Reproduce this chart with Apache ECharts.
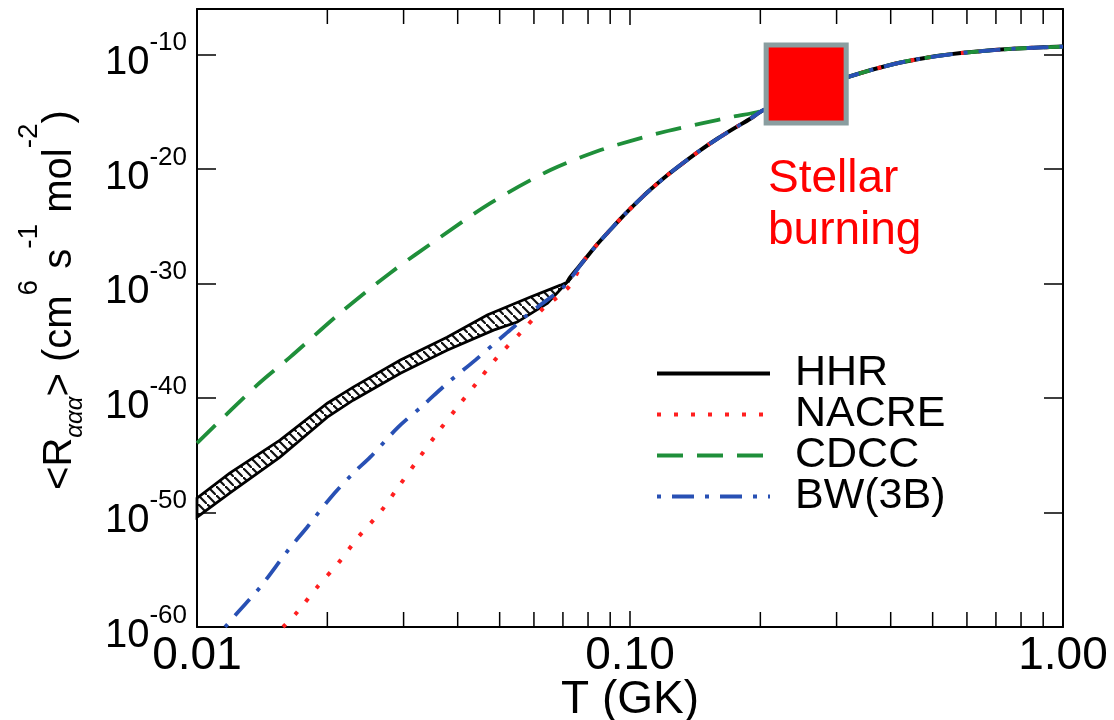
<!DOCTYPE html>
<html><head><meta charset="utf-8">
<script src="https://cdn.jsdelivr.net/npm/echarts@6/dist/echarts.min.js"></script>
<style>html,body{margin:0;padding:0;background:#fff}#chart{width:1114px;height:720px}</style>
</head><body><div id="chart"></div>
<script>
// ---------------- data ----------------
const xTicks = [0.01, 0.1, 1];
const xTickLabels = ['0.01', '0.10', '1.00'];
const xMinorTicks = [0.02,0.03,0.04,0.05,0.06,0.07,0.08,0.09,0.2,0.3,0.4,0.5,0.6,0.7,0.8,0.9];
const yTicks = [1e-60, 1e-50, 1e-40, 1e-30, 1e-20, 1e-10];
const yTickExps = ['-60', '-50', '-40', '-30', '-20', '-10'];
const yMin = 1e-60, yMax = 1e-6;

// HHR uncertainty band (low T)
const hhrUpperT = [0.0100,0.0119,0.01555,0.0200,0.02295,0.0295,0.0378,0.0468,0.0589,0.0691,0.0717];
const hhrUpperR = [1.8e-49,2.75e-47,2.1e-44,3.6e-41,9.1e-40,2.1e-37,2.1e-35,1.8e-33,6.8e-32,7.4e-31,1.4e-30];
const hhrLowerT = [0.0100,0.0119,0.01555,0.0200,0.02295,0.0295,0.0378,0.0484,0.0549,0.0645,0.0717];
const hhrLowerR = [3.9e-51,4.9e-49,6.9e-46,2.2e-42,6.6e-41,1.5e-38,1.55e-36,8.7e-35,4.4e-34,2.0e-32,1.4e-30];

// HHR line where the band has closed
const hhrLowT = [0.0717, 0.0728];
const hhrLowR = [1.4e-30, 3.7e-30];

// common high-T curve (HHR, NACRE, BW coincide)
const sharedT = [0.0781,0.0841,0.0902,0.0966,0.1041,0.1115,0.1221,0.1330,0.1455,0.1594,0.1735,0.1900,0.2025,0.2552,0.3184,0.4066,0.4874,0.5811,0.6928,0.8302,1.0];
const sharedR = [9.3e-29,2.9e-27,5.4e-26,8.9e-25,1.48e-23,1.66e-22,3.1e-21,3.8e-20,4.7e-19,4.8e-18,3.5e-17,2.7e-16,1.35e-15,5.5e-14,1.15e-12,1.55e-11,5.8e-11,1.4e-10,2.6e-10,3.9e-10,5.2e-10];

const nacreT = [0.0158,0.01703,0.01894,0.02118,0.02357,0.02649,0.02915,0.03243,0.03588,0.03992,0.0444,0.04938,0.05582,0.0631,0.06797,0.0728];
const nacreR = [1.0e-60,1.95e-59,3.0e-57,3.7e-55,7.1e-53,1.07e-50,1.66e-48,4.6e-46,8.7e-44,1.6e-41,2.5e-39,3.8e-37,4.8e-35,7.2e-33,6.8e-32,7.4e-31];

const cdccT = [0.0100,0.01376,0.01641,0.02141,0.0279,0.0365,0.0476,0.0655,0.0855,0.1019,0.1221,0.1455,0.1735];
const cdccR = [1.15e-44,1.35e-39,3.8e-37,2.7e-33,8.3e-30,1.17e-26,1.1e-23,8.5e-21,4.7e-19,3.5e-18,2.2e-17,9.8e-17,4.0e-16];

const bwT = [0.01161,0.01237,0.01399,0.01623,0.01796,0.0203,0.02295,0.02512,0.02915,0.0333,0.03784,0.04393,0.04966,0.0535,0.05673,0.06111,0.07017];
const bwR = [1.0e-60,1.6e-59,3.0e-57,5.1e-54,5.2e-52,1.8e-49,2.75e-47,6.9e-46,2.9e-43,2.4e-41,2.0e-39,2.1e-37,1.17e-35,1.3e-34,9.8e-34,8.9e-33,5.0e-31];

// stellar burning marker (centre)
const stellarT = [0.2552];
const stellarR = [2.78e-13];

// ---------------- build ----------------
const FONT = '"Liberation Sans", Arial, Helvetica, sans-serif';
const pairs = (T, R) => T.map((t, i) => [t, R[i]]);
const shared = pairs(sharedT, sharedR);
const hhrData = pairs(hhrLowT, hhrLowR).concat(shared);
const nacreData = pairs(nacreT, nacreR).concat(shared);
const bwData = pairs(bwT, bwR).concat(shared);
const cdccData = pairs(cdccT, cdccR).concat(shared.filter(p => p[0] >= 0.2));
const bandUpper = pairs(hhrUpperT, hhrUpperR);
const bandLower = pairs(hhrLowerT, hhrLowerR);

// hatch pattern for the HHR band
const hatch = document.createElement('canvas');
hatch.width = 9; hatch.height = 9;
(function(){
  const c = hatch.getContext('2d');
  c.fillStyle = '#fff'; c.fillRect(0,0,9,9);
  c.strokeStyle = '#111'; c.lineWidth = 2.2;
  c.beginPath(); c.moveTo(-1,-1); c.lineTo(10,10); c.stroke();
})();

const chart = echarts.init(document.getElementById('chart'), null, {renderer: 'canvas'});

const axisLineStyle = {color: '#000', width: 2};
const xFmt = v => {
  for (let i = 0; i < xTicks.length; i++) {
    if (Math.abs(Math.log10(v) - Math.log10(xTicks[i])) < 1e-6) return xTickLabels[i];
  }
  return '';
};

const option = {
  backgroundColor: '#fff',
  animation: false,
  grid: {left: 197, right: 51, top: 9, bottom: 93, containLabel: false, outerBoundsMode: 'none'},
  legend: {
    orient: 'vertical', left: 655, top: 352, padding: 0,
    itemWidth: 113, itemHeight: 20, itemGap: -2,
    data: ['HHR', 'NACRE', 'CDCC', 'BW(3B)'],
    itemStyle: {opacity: 0},
    lineStyle: {width: 4},
    textStyle: {fontSize: 43, color: '#000', fontFamily: FONT, lineHeight: 38, padding: [0, 0, 0, 20]}
  },
  xAxis: [
    {type: 'log', logBase: 10, min: 0.01, max: 1, position: 'bottom',
     name: 'T (GK)', nameLocation: 'middle', nameGap: 50, nameMoveOverlap: false,
     nameTextStyle: {fontSize: 46, color: '#000', fontFamily: FONT},
     axisLine: {show: true, onZero: false, lineStyle: axisLineStyle},
     axisTick: {show: true, inside: true, length: 16, lineStyle: {color: '#000', width: 1.5}},
     axisLabel: {fontSize: 46, color: '#000', fontFamily: FONT, margin: 6, formatter: xFmt, showMinLabel: true, showMaxLabel: true},
     splitLine: {show: false}},
    {type: 'log', logBase: 10, min: 0.01, max: 1, position: 'top',
     axisLine: {show: true, onZero: false, lineStyle: axisLineStyle},
     axisTick: {show: true, inside: true, length: 16, lineStyle: {color: '#000', width: 1.5}},
     axisLabel: {show: false}, splitLine: {show: false}}
  ],
  yAxis: [
    {type: 'log', logBase: 10, min: yMin, max: yMax, position: 'left',
     name: '<R{sub|ααα}> (cm{sup|6} s{sup|-1} mol{sup|-2})',
     nameLocation: 'middle', nameGap: 92, nameMoveOverlap: false,
     nameTextStyle: {fontSize: 40, color: '#000', fontFamily: FONT, padding: [0, 0, 0, 36],
       rich: {
         sub: {fontSize: 24, fontStyle: 'italic', color: '#000', fontFamily: FONT, padding: [30, 0, 0, 0]},
         sup: {fontSize: 28, color: '#000', fontFamily: FONT, padding: [0, 0, 62, 0]}
       }},
     axisLine: {show: true, onZero: false, lineStyle: axisLineStyle},
     axisTick: {show: true, inside: true, length: 19, lineStyle: {color: '#000', width: 1.5}},
     axisLabel: {show: false},
     splitLine: {show: false}},
    {type: 'log', logBase: 10, min: yMin, max: yMax, position: 'right',
     axisLine: {show: true, onZero: false, lineStyle: axisLineStyle},
     axisTick: {show: true, inside: true, length: 19, lineStyle: {color: '#000', width: 1.5}},
     axisLabel: {show: false}, splitLine: {show: false}}
  ],
  series: [
    {
      name: 'HHR band', type: 'custom', silent: true, z: 2,
      data: bandUpper,
      renderItem: function (params, api) {
        if (params.dataIndex !== 0) return null;
        const pts = bandUpper.map(p => api.coord(p)).concat(bandLower.slice().reverse().map(p => api.coord(p)));
        return {type: 'polygon', shape: {points: pts},
          style: {fill: {image: hatch, repeat: 'repeat'}, stroke: '#000', lineWidth: 2.8}};
      }
    },
    {
      name: 'minor ticks', type: 'custom', silent: true, z: 3,
      data: xMinorTicks.map(t => [t, yMin]),
      renderItem: function (params, api) {
        const t = api.value(0);
        const b = api.coord([t, yMin]);
        const tp = api.coord([t, yMax]);
        return {type: 'group', children: [
          {type: 'line', shape: {x1: b[0], y1: b[1], x2: b[0], y2: b[1] - 15}, style: {stroke: '#000', lineWidth: 1.5}},
          {type: 'line', shape: {x1: tp[0], y1: tp[1], x2: tp[0], y2: tp[1] + 15}, style: {stroke: '#000', lineWidth: 1.5}}
        ]};
      }
    },
    {
      name: 'y labels', type: 'custom', silent: true, z: 20, clip: false,
      data: yTicks.map(v => [xTicks[0], v]),
      renderItem: function (params, api) {
        const p = api.coord([api.value(0), api.value(1)]);
        return {type: 'text', x: p[0] - 10, y: p[1],
          style: {text: '{b|10}{s|' + yTickExps[params.dataIndex] + '}', align: 'right', verticalAlign: 'middle',
            rich: {
              b: {fontSize: 40, fill: '#000', fontFamily: FONT, padding: [17, 0, 0, 0]},
              s: {fontSize: 26, fill: '#000', fontFamily: FONT, padding: [0, 0, 23, 0]}
            }}};
      }
    },
    {name: 'HHR', type: 'line', data: hhrData, symbol: 'none', smooth: 0.3, z: 4,
     lineStyle: {color: '#000', width: 4}, itemStyle: {color: '#000'}},
    {name: 'NACRE', type: 'line', data: nacreData, symbol: 'none', smooth: 0.3, z: 5,
     lineStyle: {color: '#ff1f1f', width: 4, type: [4, 13]}, itemStyle: {color: '#ff1f1f'}},
    {name: 'CDCC', type: 'line', data: cdccData, symbol: 'none', smooth: 0.3, z: 6,
     lineStyle: {color: '#1f8f3a', width: 3.8, type: [26, 14]}, itemStyle: {color: '#1f8f3a'}},
    {name: 'BW(3B)', type: 'line', data: bwData, symbol: 'none', smooth: 0.3, z: 7,
     lineStyle: {color: '#2850b4', width: 3.8, type: [4, 11, 22, 11]}, itemStyle: {color: '#2850b4'}},
    {name: 'Stellar burning', type: 'scatter', z: 10, silent: true,
     data: pairs(stellarT, stellarR), symbol: 'rect', symbolSize: [80, 78],
     itemStyle: {color: '#ff0000', borderColor: '#8a9ea0', borderWidth: 5, opacity: 1}}
  ],
  graphic: [
    {type: 'text', left: 768, top: 153, z: 20,
     style: {text: 'Stellar\nburning', fill: '#ff0000', font: '46px ' + FONT, lineHeight: 52}}
  ]
};
chart.setOption(option);
</script>
</body></html>
